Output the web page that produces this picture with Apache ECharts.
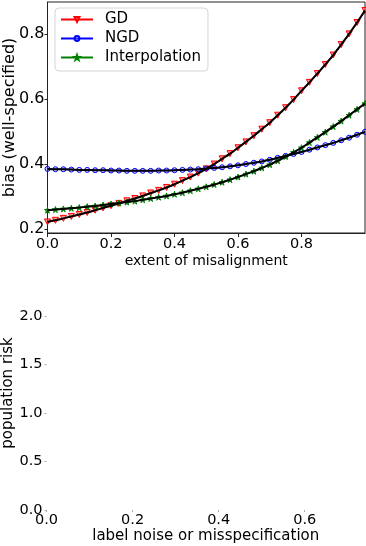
<!DOCTYPE html>
<html>
<head>
<meta charset="UTF-8">
<title>bias vs misalignment</title>
<script src="https://cdn.jsdelivr.net/npm/echarts@6/dist/echarts.min.js"></script>
<style>
  html, body { margin: 0; padding: 0; background: #fff; }
  #main { width: 366px; height: 546px; }
</style>
</head>
<body>
<div id="main"></div>
<script type="text/javascript">
// x positions (extent of misalignment), step 0.025
var xs = [0, 0.025, 0.05, 0.075, 0.1, 0.125, 0.15, 0.175, 0.2, 0.225, 0.25, 0.275, 0.3, 0.325, 0.35, 0.375,
          0.4, 0.425, 0.45, 0.475, 0.5, 0.525, 0.55, 0.575, 0.6, 0.625, 0.65, 0.675, 0.7, 0.725, 0.75, 0.775,
          0.8, 0.825, 0.85, 0.875, 0.9, 0.925, 0.95, 0.975, 1.0];

var gd = [0.222, 0.227, 0.233, 0.239, 0.245, 0.251, 0.258, 0.265, 0.272, 0.279, 0.287, 0.294, 0.302, 0.311, 0.319, 0.328,
          0.338, 0.349, 0.360, 0.372, 0.385, 0.400, 0.416, 0.432, 0.450, 0.468, 0.487, 0.507, 0.527, 0.550, 0.573, 0.598,
          0.625, 0.651, 0.678, 0.706, 0.735, 0.767, 0.800, 0.835, 0.872];

var ngd = [0.385, 0.384, 0.384, 0.383, 0.382, 0.382, 0.381, 0.381, 0.380, 0.380, 0.379, 0.379, 0.379, 0.379, 0.380, 0.380,
           0.381, 0.382, 0.383, 0.384, 0.386, 0.388, 0.390, 0.393, 0.396, 0.400, 0.404, 0.408, 0.413, 0.419, 0.425, 0.431,
           0.437, 0.444, 0.451, 0.458, 0.465, 0.473, 0.481, 0.490, 0.499];

var interp = [0.258, 0.260, 0.262, 0.264, 0.266, 0.269, 0.271, 0.274, 0.277, 0.280, 0.283, 0.286, 0.290, 0.294, 0.298, 0.302,
              0.307, 0.312, 0.318, 0.324, 0.330, 0.337, 0.344, 0.352, 0.360, 0.369, 0.378, 0.388, 0.398, 0.410, 0.423, 0.436,
              0.450, 0.466, 0.482, 0.498, 0.515, 0.532, 0.550, 0.568, 0.586];

var topXTicks = [0, 0.2, 0.4, 0.6, 0.8];
var topYTicks = [0.2, 0.4, 0.6, 0.8];
var botXTicks = [0, 0.2, 0.4, 0.6];
var botYTicks = [0, 0.5, 1.0, 1.5, 2.0];

function pairs(ys) {
    var out = [];
    for (var i = 0; i < xs.length; i++) out.push([xs[i], ys[i]]);
    return out;
}
function fmt1(v) { return Number(v).toFixed(1); }

var FONT = 'DejaVu Sans';
var triDown = 'path://M0,0L10,0L5,10Z';
var star = 'path://M5,0L6.2,3.8L10,3.8L6.9,6.1L8.1,10L5,7.6L1.9,10L3.1,6.1L0,3.8L3.8,3.8Z';

function markerSeries(name, ys, color, symbol, fill, size) {
    return {
        name: name, type: 'line', xAxisIndex: 0, yAxisIndex: 0,
        data: pairs(ys),
        symbol: symbol, symbolSize: size, showSymbol: true,
        lineStyle: { color: color, width: 1.5 },
        itemStyle: { color: fill, borderColor: color, borderWidth: 1 },
        z: 2, silent: true, animation: false
    };
}
function fitSeries(ys) {
    return {
        type: 'line', xAxisIndex: 0, yAxisIndex: 0,
        data: pairs(ys), smooth: true, symbol: 'none',
        lineStyle: { color: '#000', width: 2 },
        z: 3, silent: true, animation: false
    };
}

var option = {
    animation: false,
    grid: [
        { left: 47.5, top: 2, width: 317.5, height: 231, show: true, borderColor: '#222', borderWidth: 1,
          outerBoundsMode: 'none', containLabel: false },
        { left: 46.5, top: 276, width: 318.5, height: 234, outerBoundsMode: 'none', containLabel: false }
    ],
    legend: {
        data: ['GD', 'NGD', 'Interpolation'],
        orient: 'vertical', left: 55, top: 8,
        itemWidth: 32, itemHeight: 6, itemGap: 4,
        padding: [4, 7, 6, 5],
        borderColor: '#d5d5d5', borderWidth: 1, borderRadius: 4,
        backgroundColor: 'rgba(255,255,255,0.85)',
        textStyle: { fontFamily: FONT, fontSize: 15, color: '#000', padding: [0, 0, 0, 7] }
    },
    xAxis: [
        {
            type: 'value', gridIndex: 0, min: 0, max: 1,
            name: 'extent of misalignment', nameLocation: 'middle', nameGap: 21, nameMoveOverlap: false,
            nameTextStyle: { fontFamily: FONT, fontSize: 14, color: '#000' },
            axisLine: { show: true, lineStyle: { color: '#222', width: 1 } },
            axisTick: { show: true, length: 4, customValues: topXTicks, lineStyle: { color: '#222' } },
            axisLabel: { customValues: topXTicks, formatter: fmt1, margin: 4,
                         fontFamily: FONT, fontSize: 14.5, color: '#000' },
            splitLine: { show: false }
        },
        {
            type: 'value', gridIndex: 1, min: 0, max: 0.74,
            name: 'label noise or misspecification', nameLocation: 'middle', nameGap: 19, nameMoveOverlap: false,
            nameTextStyle: { fontFamily: FONT, fontSize: 15, color: '#000' },
            axisLine: { show: false },
            axisTick: { show: true, length: 2, customValues: botXTicks, lineStyle: { color: '#aaa' } },
            axisLabel: { customValues: botXTicks, formatter: fmt1, margin: 3,
                         fontFamily: FONT, fontSize: 14.5, color: '#000' },
            splitLine: { show: false }
        }
    ],
    yAxis: [
        {
            type: 'value', gridIndex: 0, min: 0.188, max: 0.898,
            name: 'bias (well-specified)', nameLocation: 'middle', nameGap: 30, nameMoveOverlap: false,
            nameTextStyle: { fontFamily: FONT, fontSize: 16, color: '#000' },
            axisLine: { show: true, lineStyle: { color: '#222', width: 1 } },
            axisTick: { show: true, length: 3, customValues: topYTicks, lineStyle: { color: '#222' } },
            axisLabel: { customValues: topYTicks, formatter: fmt1, margin: 3,
                         fontFamily: FONT, fontSize: 16, color: '#000' },
            splitLine: { show: false }
        },
        {
            type: 'value', gridIndex: 1, min: 0, max: 2.41,
            name: 'population risk', nameLocation: 'middle', nameGap: 31, nameMoveOverlap: false,
            nameTextStyle: { fontFamily: FONT, fontSize: 15, color: '#000' },
            axisLine: { show: false },
            axisTick: { show: true, length: 2, customValues: botYTicks, lineStyle: { color: '#aaa' } },
            axisLabel: { customValues: botYTicks, formatter: fmt1, margin: 4,
                         fontFamily: FONT, fontSize: 14.5, color: '#000' },
            splitLine: { show: false }
        }
    ],
    series: [
        markerSeries('GD', gd, '#ff0000', triDown, 'rgba(255,80,80,0.6)', 6),
        markerSeries('NGD', ngd, '#0000ff', 'circle', 'rgba(120,120,255,0.35)', 5),
        markerSeries('Interpolation', interp, '#008000', star, 'rgba(0,128,0,0.8)', 6),
        fitSeries(gd),
        fitSeries(ngd),
        fitSeries(interp)
    ]
};

var myChart = echarts.init(document.getElementById('main'), null, { renderer: 'canvas' });
myChart.setOption(option);
</script>
</body>
</html>
